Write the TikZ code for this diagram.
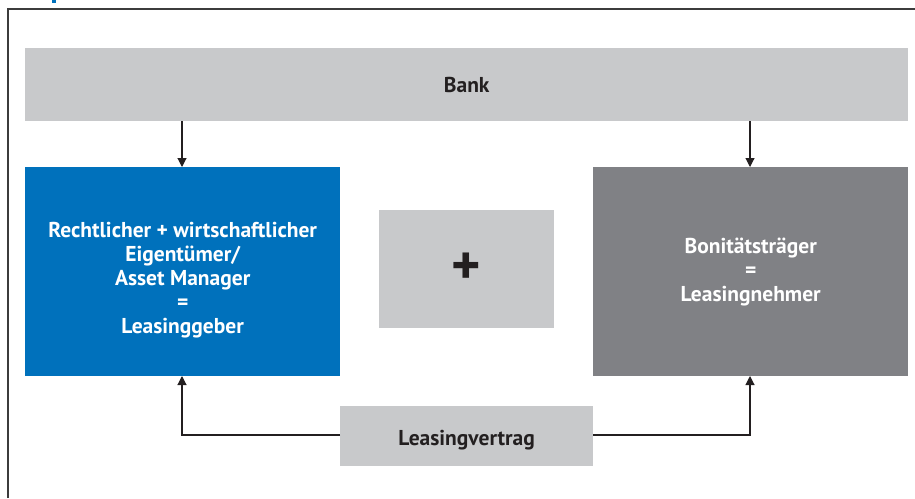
\documentclass[tikz,border=0pt]{standalone}
\usepackage{fontspec}
\setmainfont{PT Sans}
\usetikzlibrary{arrows.meta}
\definecolor{bblue}{HTML}{0071BC}
\definecolor{lgray}{HTML}{C8C9CB}
\definecolor{dgray}{HTML}{808185}
\definecolor{tdark}{HTML}{231F20}
\definecolor{frame}{HTML}{3C3C3C}
\tikzset{
  box/.style={draw=none, inner sep=0pt, align=center, font=\bfseries\fontsize{21.5}{24}\selectfont},
  txt/.style={inner sep=0pt, align=center, font=\bfseries\fontsize{21.5}{24}\selectfont},
  conn/.style={draw=tdark, line width=1.1pt, -{Triangle[length=9pt,width=9pt]}},
}
\begin{document}
\begin{tikzpicture}[x=1pt,y=-1pt]
\useasboundingbox (0,0) rectangle (915,498);
% cut-off title fragment
\fill[bblue] (52,0) rectangle (56,3);
% frame
\draw[frame, line width=2pt] (8,498) -- (8,9) -- (915,9);
% boxes
\node[box, fill=lgray, text=tdark, minimum width=883pt, minimum height=73pt, anchor=north west] (bank) at (25,48) {Bank};
\node[box, fill=bblue, minimum width=315pt, minimum height=209pt, anchor=north west] (lg) at (25,167) {};
\node[txt, text=white, yshift=-8pt] (lgt) at (lg.center) {Rechtlicher + wirtschaftlicher\\Eigentümer/\\Asset Manager\\=\\Leasinggeber};
\node[box, fill=lgray, text=tdark, minimum width=175pt, minimum height=118pt, anchor=north west, font=\bfseries\fontsize{56}{56}\selectfont] (plus) at (379,210) {+};
\node[box, fill=dgray, text=white, minimum width=315pt, minimum height=209pt, anchor=north west] (ln) at (593,167) {Bonitätsträger\\=\\Leasingnehmer};
\node[box, fill=lgray, minimum width=253pt, minimum height=60pt, anchor=north west] (lv) at (340,406) {};
\node[txt, text=tdark, yshift=-4pt] (lvt) at (lv.center) {Leasingvertrag};
% connector anchor coordinates
\coordinate (bl) at (182,121);
\coordinate (br) at (750,121);
\coordinate (tl) at (182,167);
\coordinate (tr) at (750,167);
\coordinate (ul) at (182,376);
\coordinate (ur) at (750,376);
\coordinate (cl) at (182,435);
\coordinate (cr) at (750,435);
\coordinate (lvl) at (340,435);
\coordinate (lvr) at (593,435);
% connectors
\draw[conn] (bl) -- (tl);
\draw[conn] (br) -- (tr);
\draw[conn] (lvl) -- (cl) -- (ul);
\draw[conn] (lvr) -- (cr) -- (ur);
\end{tikzpicture}
\end{document}
